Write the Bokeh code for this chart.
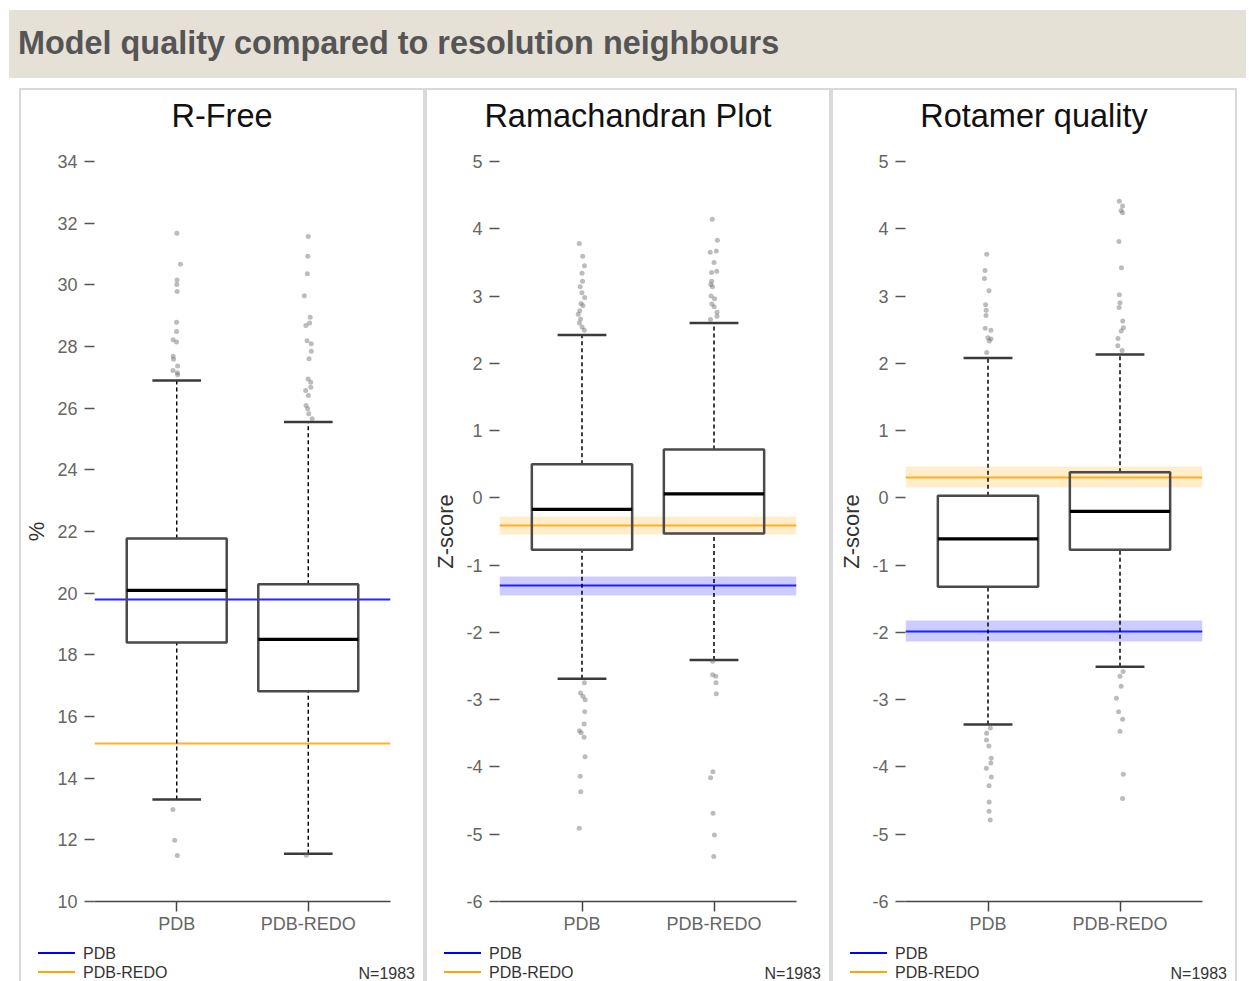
from bokeh.plotting import figure
from bokeh.models import Range1d, FactorRange, FixedTicker, Div, ColumnDataSource
from bokeh.transform import dodge, jitter
from bokeh.layouts import column, row
from bokeh.embed import file_html
from bokeh.resources import INLINE

FONT = "Liberation Sans"

# ---------------- data ----------------
header_text = "Model quality compared to resolution neighbours"
categories = ["PDB", "PDB-REDO"]
panel_titles = ["R-Free", "Ramachandran Plot", "Rotamer quality"]
y_axis_labels = ["%", "Z-score", "Z-score"]
legend_labels = ["PDB", "PDB-REDO"]
sample_size_label = "N=1983"

rfree_ticks = [10, 12, 14, 16, 18, 20, 22, 24, 26, 28, 30, 32, 34]
rfree_tick_labels = ["10", "12", "14", "16", "18", "20", "22", "24", "26", "28", "30", "32", "34"]
z_ticks = [-6, -5, -4, -3, -2, -1, 0, 1, 2, 3, 4, 5]
z_tick_labels = ["-6", "-5", "-4", "-3", "-2", "-1", "0", "1", "2", "3", "4", "5"]

# R-Free box statistics (PDB, PDB-REDO)
rfree_lower = [13.31, 11.55]
rfree_q1 = [18.40, 16.82]
rfree_median = [20.09, 18.50]
rfree_q3 = [21.77, 20.29]
rfree_upper = [26.90, 25.55]
rfree_outliers_pdb = [31.67, 30.67, 30.16, 30.01, 29.78, 28.79, 28.49, 28.22, 28.15,
                      27.68, 27.59, 27.37, 27.22, 27.15, 27.08, 12.98, 11.99, 11.49]
rfree_outliers_redo = [31.57, 30.93, 30.36, 29.65, 28.95, 28.76, 28.68, 28.19, 28.09,
                       27.85, 27.60, 26.95, 26.84, 26.68, 26.57, 26.41, 26.09, 25.98,
                       25.82, 25.66, 11.50]
rfree_this_model = [19.78, 15.12]      # PDB entry, PDB-REDO entry
rfree_this_model_err = [0.0, 0.0]

# Ramachandran Z-score
rama_lower = [-2.69, -2.41]
rama_q1 = [-0.77, -0.53]
rama_median = [-0.17, 0.06]
rama_q3 = [0.50, 0.72]
rama_upper = [2.42, 2.60]
rama_outliers_pdb = [3.78, 3.59, 3.45, 3.34, 3.22, 3.14, 3.05, 2.98, 2.89, 2.86, 2.78,
                     2.73, 2.66, 2.60, 2.54, 2.49, -2.75, -2.90, -2.95, -3.00, -3.18,
                     -3.36, -3.46, -3.49, -3.56, -3.85, -4.14, -4.37, -4.91]
rama_outliers_redo = [4.14, 3.83, 3.67, 3.65, 3.50, 3.37, 3.35, 3.22, 3.17, 3.14, 3.00,
                      2.96, 2.88, 2.84, 2.76, 2.70, 2.65, -2.43, -2.63, -2.65, -2.75,
                      -2.91, -4.07, -4.16, -4.69, -5.01, -5.33]
rama_this_model = [-1.31, -0.41]
rama_this_model_err = [0.14, 0.14]

# Rotamer Z-score
rota_lower = [-3.37, -2.51]
rota_q1 = [-1.32, -0.77]
rota_median = [-0.61, -0.20]
rota_q3 = [0.03, 0.38]
rota_upper = [2.08, 2.13]
rota_outliers_pdb = [3.62, 3.38, 3.26, 3.08, 2.87, 2.79, 2.71, 2.52, 2.49, 2.38, 2.36,
                     2.33, 2.16, -3.42, -3.50, -3.60, -3.69, -3.87, -3.94, -4.02, -4.15,
                     -4.28, -4.52, -4.66, -4.79]
rota_outliers_redo = [4.41, 4.34, 4.27, 4.24, 3.81, 3.42, 3.02, 2.90, 2.83, 2.63, 2.53,
                      2.48, 2.37, 2.26, 2.19, -2.58, -2.65, -2.80, -2.98, -3.18, -3.29,
                      -3.47, -4.11, -4.47]
rota_this_model = [-1.98, 0.31]
rota_this_model_err = [0.15, 0.15]

series_colors = ["blue", "orange"]

# ---------------- layout constants ----------------
BORDER = "2px solid #d9d9d9"
OUTER_W = 406
FRAME_W = 297
FRAME_H = 740
MB_LEFT, MB_TOP, MB_BOTTOM = 72, 12, 40
MB_RIGHT = OUTER_W - MB_LEFT - FRAME_W
MAIN_H = MB_TOP + FRAME_H + MB_BOTTOM
TITLE_H = 61
FOOT_H = 40


def title_div(text):
    html = ('<div style="box-sizing:border-box;width:%dpx;height:%dpx;border-top:%s;'
            'border-left:%s;border-right:%s;background:white;text-align:center;'
            'font-family:\'Liberation Sans\',sans-serif;font-size:32.5px;line-height:36px;'
            'padding-top:8px;color:#111111;white-space:nowrap;">%s</div>'
            % (OUTER_W, TITLE_H, BORDER, BORDER, BORDER, text))
    return Div(text=html, width=OUTER_W, height=TITLE_H, margin=0)


def footer_div():
    parts = []
    row_tops = [11, 30]
    for i, (lab, c) in enumerate(zip(legend_labels, series_colors)):
        t = row_tops[i]
        parts.append('<div style="position:absolute;left:17px;top:%dpx;width:37px;height:0;'
                     'border-top:2px solid %s;"></div>' % (t, c))
        parts.append('<div style="position:absolute;left:62px;top:%dpx;font-size:16px;'
                     'line-height:17px;color:#333333;white-space:nowrap;">%s</div>' % (t - 7, lab))
    parts.append('<div style="position:absolute;right:8px;top:24px;font-size:16px;'
                 'line-height:17px;color:#333333;white-space:nowrap;">%s</div>' % sample_size_label)
    html = ('<div style="box-sizing:border-box;position:relative;width:%dpx;height:%dpx;'
            'border-left:%s;border-right:%s;background:white;'
            'font-family:\'Liberation Sans\',sans-serif;">%s</div>'
            % (OUTER_W, FOOT_H, BORDER, BORDER, "".join(parts)))
    return Div(text=html, width=OUTER_W, height=FOOT_H, margin=0)


def make_panel(title, ylabel, ticks, tick_labels, lower, q1, med, q3, upper,
               out_pdb, out_redo, this_model, this_err):
    p = figure(width=OUTER_W, height=MAIN_H, title=None,
               x_range=FactorRange(factors=categories, range_padding=0.125,
                                   range_padding_units="absolute"),
               y_range=Range1d(ticks[0], ticks[-1]),
               output_backend="svg", toolbar_location=None,
               min_border_left=MB_LEFT, min_border_right=MB_RIGHT,
               min_border_top=MB_TOP, min_border_bottom=MB_BOTTOM)
    p.styles = {"border-left": BORDER, "border-right": BORDER}
    p.outline_line_color = None
    p.xgrid.visible = False
    p.ygrid.visible = False

    # values of this entry (uncertainty bands + lines)
    for v, e, c in zip(this_model, this_err, series_colors):
        if e > 0:
            p.hstrip(y0=[v - e], y1=[v + e], fill_color=c, fill_alpha=0.2,
                     line_color=None)
    for v, c in zip(this_model, series_colors):
        p.hspan(y=[v], line_color=c, line_width=2, line_alpha=0.85)

    src = ColumnDataSource(dict(cat=categories, lo=lower, q1=q1, med=med, q3=q3, hi=upper))
    # whiskers
    p.segment(x0="cat", x1="cat", y0="q3", y1="hi", line_color="black",
              line_width=1.5, line_dash="4 3", source=src)
    p.segment(x0="cat", x1="cat", y0="lo", y1="q1", line_color="black",
              line_width=1.5, line_dash="4 3", source=src)
    # caps
    for col in ("hi", "lo"):
        p.segment(x0=dodge("cat", -0.185, range=p.x_range),
                  x1=dodge("cat", 0.185, range=p.x_range),
                  y0=col, y1=col, line_color="#3a3a3a", line_width=2.5, source=src)
    # boxes
    p.vbar(x="cat", bottom="q1", top="q3", width=0.76, fill_alpha=0,
           line_color="#4a4a4a", line_width=2.5, source=src)
    # medians
    p.segment(x0=dodge("cat", -0.38, range=p.x_range),
              x1=dodge("cat", 0.38, range=p.x_range),
              y0="med", y1="med", line_color="black", line_width=3.2, source=src)
    # outliers
    osrc = ColumnDataSource(dict(cat=[categories[0]] * len(out_pdb) + [categories[1]] * len(out_redo),
                                 y=list(out_pdb) + list(out_redo)))
    p.scatter(x=jitter("cat", width=0.06, range=p.x_range), y="y", size=5,
              fill_color="#6a6a6a", fill_alpha=0.45, line_color=None, source=osrc)

    # axes
    ya = p.yaxis[0]
    ya.ticker = FixedTicker(ticks=ticks)
    ya.major_label_overrides = {t: s for t, s in zip(ticks, tick_labels)}
    ya.axis_line_color = None
    ya.major_tick_out = 10
    ya.major_tick_in = 0
    ya.minor_tick_line_color = None
    ya.major_tick_line_color = "#555555"
    ya.major_tick_line_width = 1.5
    ya.major_label_text_font = FONT
    ya.major_label_text_font_size = "18px"
    ya.major_label_text_color = "#666666"
    ya.major_label_standoff = 7
    ya.axis_label = ylabel
    ya.axis_label_text_font = FONT
    ya.axis_label_text_font_size = "22px"
    ya.axis_label_text_font_style = "normal"
    ya.axis_label_text_color = "#333333"
    ya.axis_label_standoff = 5

    xa = p.xaxis[0]
    xa.axis_line_color = "#444444"
    xa.axis_line_width = 1.5
    xa.major_tick_out = 10
    xa.major_tick_in = 0
    xa.major_tick_line_color = "#444444"
    xa.major_tick_line_width = 1.5
    xa.major_label_text_font = FONT
    xa.major_label_text_font_size = "18px"
    xa.major_label_text_color = "#666666"
    xa.major_label_standoff = 2

    return column(title_div(title), p, footer_div(), spacing=0)


c1 = make_panel(panel_titles[0], y_axis_labels[0], rfree_ticks, rfree_tick_labels,
                rfree_lower, rfree_q1, rfree_median, rfree_q3, rfree_upper,
                rfree_outliers_pdb, rfree_outliers_redo, rfree_this_model, rfree_this_model_err)
c2 = make_panel(panel_titles[1], y_axis_labels[1], z_ticks, z_tick_labels,
                rama_lower, rama_q1, rama_median, rama_q3, rama_upper,
                rama_outliers_pdb, rama_outliers_redo, rama_this_model, rama_this_model_err)
c3 = make_panel(panel_titles[2], y_axis_labels[2], z_ticks, z_tick_labels,
                rota_lower, rota_q1, rota_median, rota_q3, rota_upper,
                rota_outliers_pdb, rota_outliers_redo, rota_this_model, rota_this_model_err)

header = Div(text=('<div style="box-sizing:border-box;width:1237px;height:68px;'
                   'background:#e6e1d7;padding-left:9px;font-family:\'Liberation Sans\',sans-serif;'
                   'font-weight:bold;font-size:32.4px;color:#555555;line-height:66px;'
                   'white-space:nowrap;">' + header_text + '</div>'),
             width=1237, height=68, margin=(10, 0, 10, 9))

panels = row(c1, c2, c3, spacing=0, margin=(0, 0, 0, 19))
layout = column(header, panels, spacing=0)

open("out.html", "w").write(file_html(layout, INLINE))
